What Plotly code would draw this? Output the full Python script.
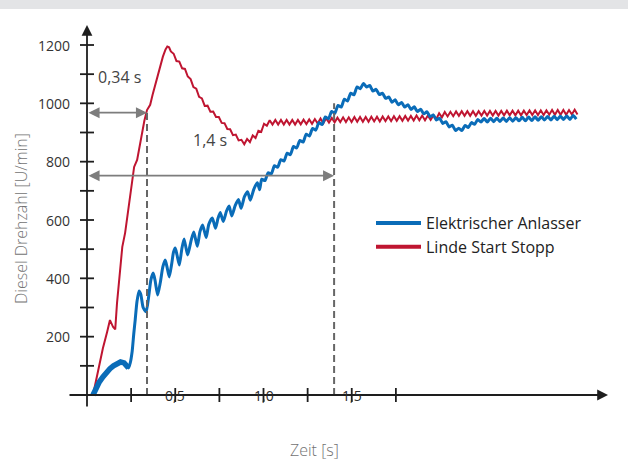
import plotly.graph_objects as go

# ---------------------------------------------------------------------------
# Messwerte: Diesel-Drehzahl [U/min] über der Zeit [s]
# ---------------------------------------------------------------------------

# Elektrischer Anlasser: Anlauf (breites Band, hochfrequente Schwingung)
BLUE_T_START = [0.034, 0.05, 0.07, 0.09, 0.11, 0.13, 0.15, 0.17, 0.19, 0.21, 0.225, 0.235]
BLUE_RPM_START = [0, 25, 45, 62, 78, 90, 100, 108, 113, 110, 102, 93]

# Elektrischer Anlasser: erste Kompressionen
BLUE_T_RUN = [0.245, 0.256, 0.265, 0.273, 0.283, 0.295, 0.305, 0.318, 0.335, 0.35,
              0.362, 0.375, 0.385, 0.40, 0.415, 0.43, 0.443, 0.453, 0.466, 0.48,
              0.49, 0.50, 0.51, 0.523, 0.537, 0.55, 0.57, 0.59, 0.605, 0.625,
              0.64, 0.655, 0.675, 0.69, 0.71, 0.728, 0.742, 0.755, 0.772, 0.79,
              0.805, 0.82, 0.84, 0.858, 0.873, 0.892, 0.91, 0.925, 0.945, 0.965,
              0.978]
BLUE_RPM_RUN = [110, 150, 210, 257, 320, 357, 345, 300, 285, 340,
                395, 418, 395, 343, 385, 440, 463, 440, 405, 450,
                490, 504, 480, 446, 500, 535, 480, 530, 559, 510,
                560, 583, 540, 585, 607, 572, 605, 626, 595, 630,
                648, 614, 650, 670, 640, 680, 697, 668, 705, 728,
                704]

# Elektrischer Anlasser: Hochlauf und Leerlauf, Abtastschritt 0,018 s ab 0,99 s
BLUE_T0 = 0.99
BLUE_DT = 0.018
BLUE_RPM_RIPPLE = [
    740, 735, 762, 758, 786, 781, 807, 802, 829, 824,
    852, 847, 873, 867, 894, 888, 914, 908, 934, 927,
    953, 947, 972, 966, 993, 987, 1014, 1008, 1035, 1029,
    1056, 1050, 1068, 1056, 1061, 1042, 1048, 1030, 1035, 1017,
    1022, 1004, 1012, 995, 1003, 987, 995, 979, 988, 972,
    980, 964, 971, 954, 960, 943, 949, 931, 937, 919,
    925, 907, 915, 907, 924, 917, 934, 928, 945, 936,
    948, 936, 949, 937, 949, 938, 950, 938, 951, 939,
    951, 940, 952, 940, 953, 941, 954, 942, 954, 943,
    955, 943, 956, 944, 956, 945, 957, 945, 958, 946,
]

# Linde Start Stopp: Anlauf bis zur Spitze
RED_T_START = [0.034, 0.06, 0.09, 0.114, 0.13, 0.148, 0.16, 0.17, 0.19, 0.20,
               0.216, 0.23, 0.244, 0.257, 0.267, 0.284, 0.30, 0.31, 0.325, 0.34,
               0.358, 0.372, 0.386, 0.40, 0.415, 0.43, 0.445, 0.455, 0.465]
RED_RPM_START = [0, 75, 160, 216, 257, 233, 225, 315, 429, 508,
                 556, 620, 693, 750, 782, 806, 860, 899, 940, 977,
                 995, 1030, 1063, 1098, 1132, 1160, 1185, 1195, 1192]

# Linde Start Stopp: Abfall nach der Spitze und Leerlauf, Abtastschritt 0,016 s ab 0,475 s
RED_T0 = 0.475
RED_DT = 0.016
RED_RPM_FALL = [
    1178, 1170, 1145, 1143, 1120, 1118, 1092, 1083, 1056, 1050,
    1022, 1017, 991, 992, 971, 972, 953, 953, 933, 932,
    912, 911, 891, 893, 873, 875,
]
RED_RPM_IDLE = [
    860, 878, 867, 890, 881, 906, 902, 930, 923, 942,
    927, 943, 927, 943, 927, 943, 927, 943, 927, 943,
    928, 944, 929, 945, 930, 946, 931, 948, 932, 949,
    934, 950, 935, 951, 936, 952, 936, 952, 936, 953,
    937, 953, 937, 953, 937, 954, 938, 954, 938, 955,
    939, 955, 939, 956, 940, 956, 940, 957, 941, 957,
    941, 958, 942, 958, 942, 958, 943, 959, 946, 966,
    952, 970, 955, 971, 956, 972, 957, 973, 957, 973,
    957, 973, 957, 973, 958, 974, 958, 974, 958, 974,
    958, 974, 959, 975, 959, 975, 959, 975, 959, 975,
    960, 976, 960, 976, 960, 976, 960, 976, 961, 977,
    961, 977, 961, 977, 961, 977, 962, 978, 962,
]

SERIES_NAMES = ["Elektrischer Anlasser", "Linde Start Stopp"]

# Markierte Startzeiten
T_LINDE = 0.34
T_ELEKTRO = 1.4
ARROW_RPM_LINDE = 968
ARROW_RPM_ELEKTRO = 752
DASH_TOP_ELEKTRO = 1000

# Achsen
Y_MINOR_TICKS = list(range(100, 1300, 100))
Y_LABELS = [200, 400, 600, 800, 1000, 1200]
X_MINOR_TICKS = [0.25, 0.5, 0.75, 1.0, 1.25, 1.5, 1.75]
X_LABEL_POS = [0.5, 1.0, 1.5]
X_LABELS = ["0,5", "1,0", "1,5"]

# ---------------------------------------------------------------------------
blue_t = BLUE_T_START + BLUE_T_RUN + [round(BLUE_T0 + BLUE_DT * i, 4) for i in range(len(BLUE_RPM_RIPPLE))]
blue_rpm = BLUE_RPM_START + BLUE_RPM_RUN + BLUE_RPM_RIPPLE
red_ripple = RED_RPM_FALL + RED_RPM_IDLE
red_t = RED_T_START + [round(RED_T0 + RED_DT * i, 4) for i in range(len(red_ripple))]
red_rpm = RED_RPM_START + red_ripple

BLUE = "#0a6cb8"
RED = "#bf1531"
AXIS = "#1e1e1e"
GRAY = "#7d7d7d"
FONT = "Open Sans"

# Pixel-genaue Skalierung: Ursprung bei (87, 395) px, 176.5 px/s, 0.29167 px/(U/min)
W, H = 628, 460
PX_PER_S = 176.5
PX_PER_RPM = 350 / 1200
X0_PX, Y0_PX = 87, 395
X_RANGE = [-X0_PX / PX_PER_S, (W - X0_PX) / PX_PER_S]
Y_RANGE = [(Y0_PX - H) / PX_PER_RPM, Y0_PX / PX_PER_RPM]


def tx(px):
    return (px - X0_PX) / PX_PER_S


def ry(py):
    return (Y0_PX - py) / PX_PER_RPM


fig = go.Figure()

fig.add_trace(go.Scatter(x=red_t, y=red_rpm, mode="lines", showlegend=False,
                         line=dict(color=RED, width=2)))
fig.add_trace(go.Scatter(x=blue_t, y=blue_rpm, mode="lines", showlegend=False,
                         line=dict(color=BLUE, width=3, shape="spline", smoothing=0.6)))
fig.add_trace(go.Scatter(x=BLUE_T_START, y=BLUE_RPM_START, mode="lines", showlegend=False,
                         line=dict(color=BLUE, width=5.5)))

# Legendeneinträge
fig.add_trace(go.Scatter(x=[None], y=[None], mode="lines", name=SERIES_NAMES[0],
                         line=dict(color=BLUE, width=4)))
fig.add_trace(go.Scatter(x=[None], y=[None], mode="lines", name=SERIES_NAMES[1],
                         line=dict(color=RED, width=4)))

shapes = []
annotations = []

# Grauer Balken oben
shapes.append(dict(type="rect", xref="paper", yref="paper", x0=0, x1=1,
                   y0=1 - 9 / H, y1=1, fillcolor="#e3e4e6", line=dict(width=0),
                   layer="below"))

# Achsenstriche
for v in Y_MINOR_TICKS:
    shapes.append(dict(type="line", x0=tx(80), x1=tx(94), y0=v, y1=v,
                       line=dict(color=AXIS, width=1.8)))
for v in X_MINOR_TICKS:
    shapes.append(dict(type="line", x0=v, x1=v, y0=ry(388), y1=ry(402),
                       line=dict(color=AXIS, width=1.8)))

# Achsen mit Pfeilspitze
annotations.append(dict(x=tx(608), y=0, ax=tx(68), ay=0, xref="x", yref="y",
                        axref="x", ayref="y", text="", showarrow=True,
                        arrowhead=2, arrowsize=1.2, arrowwidth=1.8, arrowcolor=AXIS))
annotations.append(dict(x=0, y=ry(25), ax=0, ay=ry(408), xref="x", yref="y",
                        axref="x", ayref="y", text="", showarrow=True,
                        arrowhead=2, arrowsize=1.2, arrowwidth=1.8, arrowcolor=AXIS))

# Beschriftung der Achsen
for v in Y_LABELS:
    annotations.append(dict(x=tx(72), y=v, xref="x", yref="y", text=str(v),
                            showarrow=False, xanchor="right", yanchor="middle",
                            font=dict(family=FONT, size=14, color="#333333")))
for pos, lab in zip(X_LABEL_POS, X_LABELS):
    annotations.append(dict(x=pos, y=0, xref="x", yref="y", text=lab,
                            showarrow=False, xanchor="center", yanchor="middle",
                            font=dict(family=FONT, size=14, color="#2a2a2a")))

annotations.append(dict(x=tx(21), y=ry(219), xref="x", yref="y",
                        text="Diesel Drehzahl [U/min]", textangle=-90,
                        showarrow=False, xanchor="center", yanchor="middle",
                        font=dict(family=FONT, size=16, color="#727272", weight=300)))
annotations.append(dict(x=tx(314), y=ry(450), xref="x", yref="y",
                        text="Zeit [s]", showarrow=False,
                        xanchor="center", yanchor="middle",
                        font=dict(family=FONT, size=16, color="#727272", weight=300)))

# Startzeit-Markierungen
red_at_linde = red_rpm[red_t.index(T_LINDE)]
for t, top in ((T_LINDE, red_at_linde), (T_ELEKTRO, DASH_TOP_ELEKTRO)):
    shapes.append(dict(type="line", x0=t, x1=t, y0=0, y1=top,
                       line=dict(color="#666666", width=2, dash="7px,4px")))

for t, rpm in ((T_LINDE, ARROW_RPM_LINDE), (T_ELEKTRO, ARROW_RPM_ELEKTRO)):
    annotations.append(dict(x=t, y=rpm, ax=0, ay=rpm, xref="x", yref="y",
                            axref="x", ayref="y", text="", showarrow=True,
                            arrowside="end+start", arrowhead=2, startarrowhead=2,
                            arrowsize=1.3, startarrowsize=1.3, arrowwidth=1.7,
                            arrowcolor=GRAY, standoff=0, startstandoff=0))

annotations.append(dict(x=tx(96), y=ry(77), xref="x", yref="y",
                        text=f"{T_LINDE:.2f} s".replace(".", ","), showarrow=False,
                        xanchor="left", yanchor="middle",
                        font=dict(family=FONT, size=16, color="#444444")))
annotations.append(dict(x=tx(210), y=ry(140), xref="x", yref="y",
                        text=f"{T_ELEKTRO:.1f} s".replace(".", ","), showarrow=False,
                        xanchor="center", yanchor="middle",
                        font=dict(family=FONT, size=16, color="#444444")))

fig.update_layout(
    width=W, height=H,
    margin=dict(l=0, r=0, t=0, b=0),
    paper_bgcolor="white", plot_bgcolor="white",
    xaxis=dict(range=X_RANGE, visible=False, fixedrange=True),
    yaxis=dict(range=Y_RANGE, visible=False, fixedrange=True),
    shapes=shapes, annotations=annotations,
    showlegend=True,
    legend=dict(x=371 / W, y=1 - 206 / H, xanchor="left", yanchor="top",
                bgcolor="rgba(0,0,0,0)", itemwidth=45,
                font=dict(family=FONT, size=16, color="#222222")),
)

fig.write_html("out.html")
